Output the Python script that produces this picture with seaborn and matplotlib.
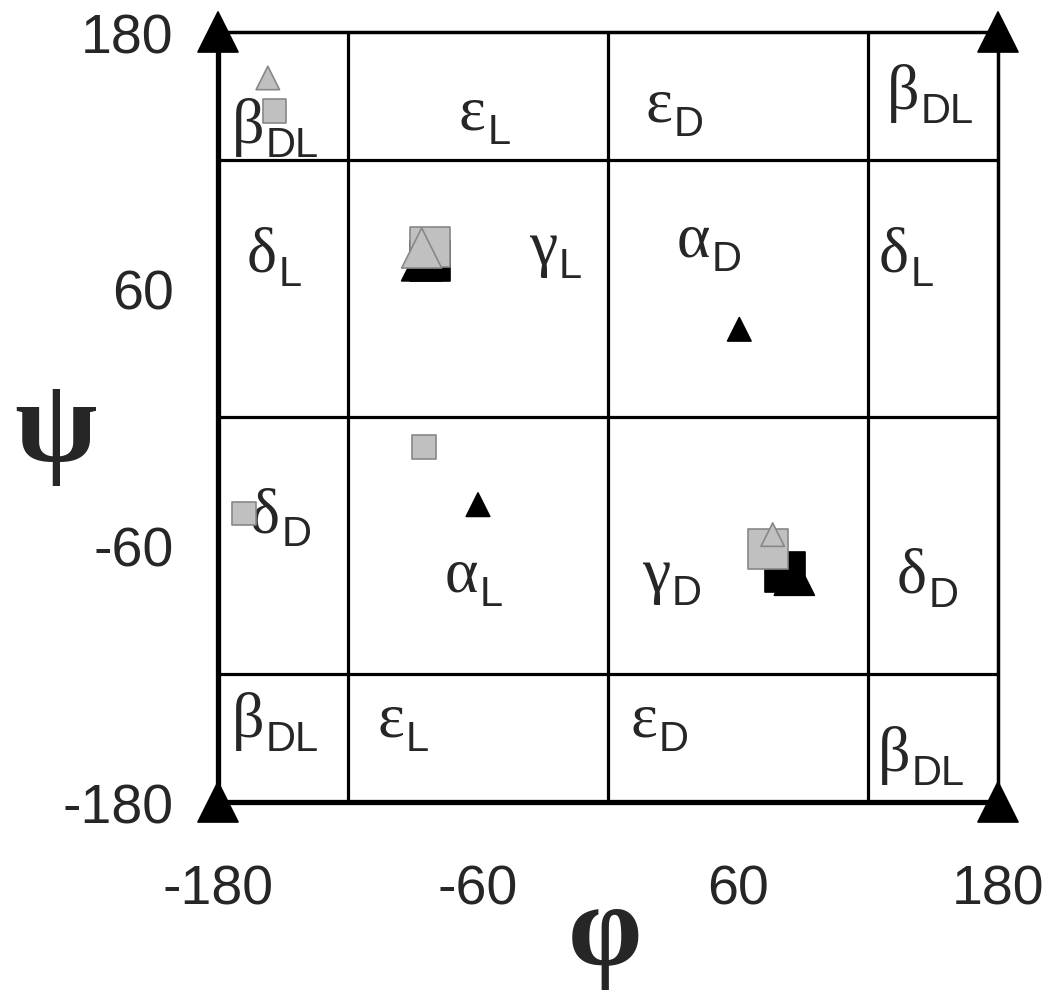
import numpy as np
import pandas as pd
import seaborn as sns
import matplotlib.pyplot as plt

# Ramachandran-style map: phi/psi regions with conformer positions.

sns.set_style("white")
plt.rcParams["font.family"] = ["Liberation Sans", "DejaVu Sans"]

# --- data ------------------------------------------------------------------
gray_sq_phi = [-154, -82, -85, -168, 74]
gray_sq_psi = [143, 79.5, -14, -45, -61.7]
gray_sq_kind = ["small", "big", "small", "small", "big"]

gray_tri_phi = [-157, -86, 76]
gray_tri_psi = [158.5, 79, -55]
gray_tri_kind = ["small", "big", "small"]

black_sq_phi = [-82, 81.5]
black_sq_psi = [73, -72.5]
black_sq_kind = ["big", "big"]

black_tri_phi = [-86, 86, 60.6, -60]
black_tri_psi = [73, -74, 41, -41]
black_tri_kind = ["big", "big", "small", "small"]

corner_phi = [-180, -180, 180, 180]
corner_psi = [180, -180, 180, -180]
corner_kind = ["big", "big", "big", "big"]

boundaries = [-120, 0, 120]
tick_values = [-180, -60, 60, 180]

# region names: greek letter + subscript, anchored at letter's left/baseline
region_greek = ["β", "ε", "ε", "β", "δ", "γ", "α", "δ",
                "δ", "α", "γ", "δ", "β", "ε", "ε", "β"]
region_sub = ["DL", "L", "D", "DL", "L", "L", "D", "L",
              "D", "L", "D", "D", "DL", "L", "D", "DL"]
region_phi = [-173.5, -68.8, 17.1, 128.8, -166.6, -36.5, 31.8, 125,
              -165.2, -75.2, 15.7, 133.4, -173.5, -106.6, 10.2, 124.6]
region_psi = [128.6, 134.7, 138.4, 144.5, 68.3, 72, 75.3, 68.3,
              -53.3, -81.3, -80.9, -81.8, -149.1, -149.1, -149.1, -165]

size_map = {"small": 285, "big": 830}

fig = plt.figure(figsize=(10.5, 10.03), dpi=100)
ax = fig.add_axes([218 / 1050, 200 / 1003, 780 / 1050, 770 / 1003])

for b in boundaries:
    ax.axvline(b, color="black", lw=2.3, zorder=1)
    ax.axhline(b, color="black", lw=2.3, zorder=1)

def draw(phi, psi, kind, marker, face, edge):
    df = pd.DataFrame({"phi": phi, "psi": psi, "kind": kind})
    sns.scatterplot(data=df, x="phi", y="psi", size="kind", sizes=size_map,
                    marker=marker, color=face, edgecolor=edge, linewidth=1.2,
                    legend=False, ax=ax, zorder=3, clip_on=False)

draw(black_sq_phi, black_sq_psi, black_sq_kind, "s", "black", "black")
draw(black_tri_phi, black_tri_psi, black_tri_kind, "^", "black", "black")
draw(gray_sq_phi, gray_sq_psi, gray_sq_kind, "s", "#c0c0c0", "#888888")
draw(gray_tri_phi, gray_tri_psi, gray_tri_kind, "^", "#c0c0c0", "#888888")
draw(corner_phi, corner_psi, corner_kind, "^", "black", "black")

for g, sub, x, y in zip(region_greek, region_sub, region_phi, region_psi):
    t = ax.text(x, y, g, fontsize=46, family="Liberation Serif",
                ha="left", va="baseline", zorder=2)
    ax.annotate(sub, xy=(1, 0), xycoords=t, xytext=(1, 0),
                textcoords="offset points", fontsize=30,
                family="Liberation Sans", ha="left", va="baseline", zorder=2)

ax.set_xlim(-180, 180)
ax.set_ylim(-180, 180)
ax.set_xticks(tick_values)
ax.set_yticks(tick_values)
ax.set_xticklabels([str(t) for t in tick_values])
ax.set_yticklabels([str(t) for t in tick_values])
ax.tick_params(axis="both", direction="out", length=14, width=2.2,
               labelsize=40, color="black")
ax.tick_params(axis="x", pad=30)
ax.tick_params(axis="y", pad=18)
ax.set_xlabel("")
ax.set_ylabel("")

for side in ["left", "bottom"]:
    ax.spines[side].set_linewidth(3.8)
for side in ["top", "right"]:
    ax.spines[side].set_linewidth(2.5)
for s in ax.spines.values():
    s.set_color("black")
    s.set_zorder(2)

fig.text(55 / 1050, 1 - 432 / 1003, "ψ", fontsize=86, fontweight="bold",
         family="Liberation Serif", ha="center", va="center")
fig.text(605 / 1050, 1 - 937 / 1003, "φ", fontsize=86, fontweight="bold",
         family="Liberation Serif", ha="center", va="center")

fig.savefig("out.png", dpi=100, facecolor="white")
